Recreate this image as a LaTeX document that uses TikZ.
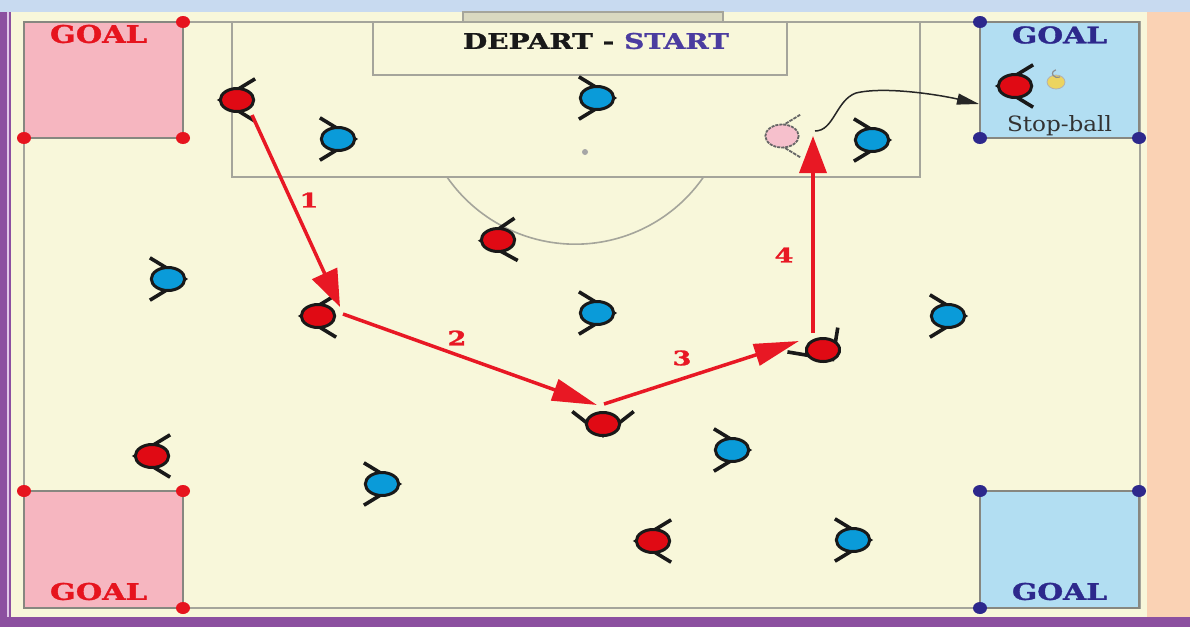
\documentclass[tikz,border=0pt]{standalone}
\usepackage{fontspec}
\setmainfont{DejaVu Serif}
\newfontfamily\heavyfont[FakeBold=1.2]{DejaVu Serif Bold}
\usetikzlibrary{arrows.meta}
\definecolor{cream}{RGB}{248,247,218}
\definecolor{topblue}{RGB}{200,218,240}
\definecolor{purp}{RGB}{140,80,160}
\definecolor{lilac}{RGB}{225,200,232}
\definecolor{peach}{RGB}{250,210,180}
\definecolor{goalpink}{RGB}{246,182,192}
\definecolor{goalblue}{RGB}{178,222,242}
\definecolor{fline}{RGB}{165,165,155}
\definecolor{gline}{RGB}{135,135,128}
\definecolor{dotred}{RGB}{230,20,30}
\definecolor{navy}{RGB}{45,40,140}
\definecolor{startblue}{RGB}{75,60,160}
\definecolor{pred}{RGB}{224,10,20}
\definecolor{pblue}{RGB}{10,155,217}
\definecolor{ghost}{RGB}{246,192,204}
\definecolor{arrred}{RGB}{232,24,36}
\definecolor{textgrey}{RGB}{50,50,50}
\tikzset{
  x=1pt, y=-1pt,
  armline/.style={draw=black!90, line width=3.6pt},
  bodyline/.style={draw=black!90, line width=3pt},
  pics/player/.style n args={3}{code={
    \begin{scope}[xscale=1.45, rotate=#2]
      \draw[armline,#3] (12.5,21.2) -- (-11.5,0) -- (12.5,-21.2);
      \draw[bodyline,fill=#1,#3] (0,0) circle (11.5);
    \end{scope}}},
  fieldline/.style={draw=fline, line width=1.6pt},
  goalbox/.style={draw=gline, line width=2pt},
  rdot/.style={fill=dotred},
  ndot/.style={fill=navy},
  runarrow/.style={draw=arrred, line width=3.5pt},
  numlbl/.style={text=arrred, inner sep=0pt},
  goallbl/.style={inner sep=0pt},
}
\newcommand{\numtxt}[1]{\scalebox{1.35}[1]{\fontsize{20}{20}\selectfont\heavyfont #1}}
\begin{document}
\begin{tikzpicture}
\useasboundingbox (0,0) rectangle (1190,627);
% background bands
\fill[cream] (0,0) rectangle (1190,627);
\fill[topblue] (0,0) rectangle (1190,12);
\fill[peach] (1147,12) rectangle (1190,617);
\fill[purp] (0,12) rectangle (11,627);
\fill[lilac] (7,12) rectangle (9,617);
\fill[purp] (0,617) rectangle (1190,627);
% top goal bar
\filldraw[fill=black!12!cream, draw=fline, line width=1.2pt] (463,12) rectangle (723,22);
% field outline and boxes
\draw[fieldline] (24,22) rectangle (1140,608);
\draw[fieldline] (232,22) rectangle (920,177);
\draw[fieldline] (373,22) rectangle (787,75);
\draw[fieldline] (447,177) arc[start angle=145.3, end angle=34.7, radius=156];
\fill[black!35] (585,152) circle (3);
% goals
\filldraw[goalbox, fill=goalpink] (24,22) rectangle (183,138);
\filldraw[goalbox, fill=goalpink] (24,491) rectangle (183,608);
\filldraw[goalbox, fill=goalblue] (980,22) rectangle (1139,138);
\filldraw[goalbox, fill=goalblue] (980,491) rectangle (1139,608);
% corner dots
\foreach \p in {(183,22),(24,138),(183,138),(24,491),(183,491),(183,608)}
  \fill[rdot] \p ellipse (7 and 6);
\foreach \p in {(980,22),(980,138),(1139,138),(980,491),(1139,491),(980,608)}
  \fill[ndot] \p ellipse (7 and 6);
% goal labels
\node[goallbl, text=dotred] (lTL) at (98.5,34) {\resizebox{97pt}{18pt}{\heavyfont GOAL}};
\node[goallbl, text=dotred] (lBL) at (98.5,591.5) {\resizebox{97pt}{17pt}{\heavyfont GOAL}};
\node[goallbl, text=navy] (lTR) at (1059.5,35) {\resizebox{95pt}{17pt}{\heavyfont GOAL}};
\node[goallbl, text=navy] (lBR) at (1059.5,591.5) {\resizebox{95pt}{17pt}{\heavyfont GOAL}};
\node[goallbl, text=black!90] (dep) at (596,41) {\resizebox{266pt}{16pt}{\heavyfont DEPART - \textcolor{startblue}{START}}};
\node[goallbl, text=textgrey] (sb) at (1059.5,126) {\resizebox{105pt}{16pt}{Stop-ball}};
% ball in goal
\filldraw[fill={rgb,255:red,236;green,212;blue,96}, draw=black!30, line width=0.8pt] (1056,82) ellipse (9 and 7);
\draw[black!45, line width=1.2pt] (1060,77) arc[start angle=60, end angle=250, x radius=5, y radius=4];
% red players
\pic (r1) at (237,100) {player={pred}{0}{}};
\pic (r2) at (318,316) {player={pred}{0}{}};
\pic (r3) at (498,240) {player={pred}{3}{}};
\pic (r4) at (603,424) {player={pred}{90}{}};
\pic (r5) at (823,350) {player={pred}{125}{}};
\pic (r6) at (152,456) {player={pred}{0}{}};
\pic (r7) at (653,541) {player={pred}{0}{}};
\pic (rg) at (1015,86) {player={pred}{0}{}};
% blue players
\pic (b1) at (597,98) {player={pblue}{180}{}};
\pic (b2) at (338,139) {player={pblue}{180}{}};
\pic (b3) at (872,140) {player={pblue}{180}{}};
\pic (b4) at (168,279) {player={pblue}{180}{}};
\pic (b5) at (597,313) {player={pblue}{180}{}};
\pic (b6) at (948,316) {player={pblue}{180}{}};
\pic (b7) at (732,450) {player={pblue}{180}{}};
\pic (b8) at (382,484) {player={pblue}{180}{}};
\pic (b9) at (853,540) {player={pblue}{180}{}};
% ghost player
\pic (gh) at (782,136) {player={ghost}{0}{densely dotted, draw=black!60, line width=1.8pt}};
% run arrow coordinates
\coordinate (a1s) at (252,115);
\coordinate (a1e) at (340,307);
\coordinate (a2s) at (343,314);
\coordinate (a2e) at (597,405);
\coordinate (a3s) at (604,404);
\coordinate (a3e) at (799,341);
\coordinate (a4s) at (813,333);
\coordinate (a4e) at (813,136);
\draw[runarrow, -{Triangle[length=37pt,width=27pt]}] (a1s) -- (a1e);
\draw[runarrow, -{Triangle[length=45pt,width=22pt]}] (a2s) -- (a2e);
\draw[runarrow, -{Triangle[length=45pt,width=22pt]}] (a3s) -- (a3e);
\draw[runarrow, -{Triangle[length=37pt,width=27pt]}] (a4s) -- (a4e);
\node[numlbl] (n1) at (309,200) {\numtxt{1}};
\node[numlbl] (n2) at (457,338) {\numtxt{2}};
\node[numlbl] (n3) at (682,358) {\numtxt{3}};
\node[numlbl] (n4) at (784,255) {\numtxt{4}};
% pass to the goal
\coordinate (sbs) at (815,131);
\coordinate (sbe) at (979,104);
\draw[black!85, line width=1.5pt, -{Triangle[length=22pt,width=11pt]}]
  (sbs) .. controls (834,131) and (836,100) .. (856,93)
  .. controls (885,86) and (940,95) .. (sbe);
\end{tikzpicture}
\end{document}
